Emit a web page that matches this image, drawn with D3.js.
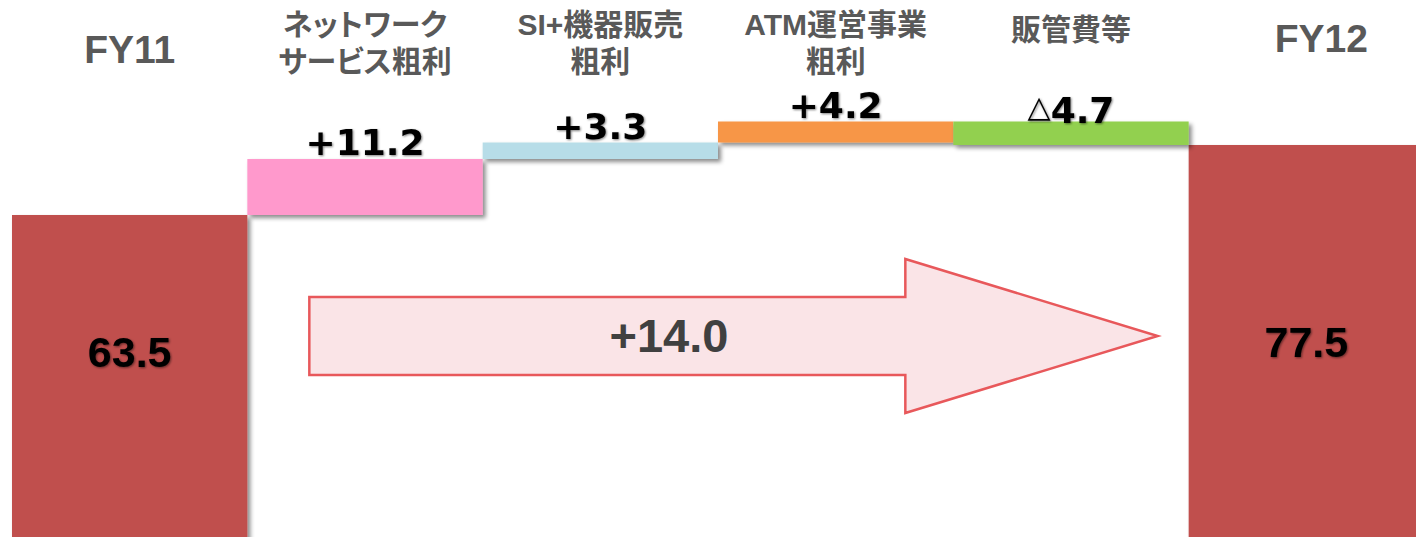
<!DOCTYPE html>
<html>
<head>
<meta charset="utf-8">
<script src="https://cdn.jsdelivr.net/npm/d3@7"></script>
<style>
  body { margin: 0; background: #fff; }
  svg { display: block; }
  .cat-label { font-feature-settings: "palt"; }
</style>
</head>
<body>
<div id="chart"></div>
<script>
// data
const categories = ["FY11", "ネットワーク\nサービス粗利", "SI+機器販売\n粗利", "ATM運営事業\n粗利", "販管費等", "FY12"];
const startValue = 63.5;
const deltas = [11.2, 3.3, 4.2, -4.7];
const endValue = 77.5;
const totalChange = 14.0;
const stepColors = ["#ff99cc", "#b7dde8", "#f79646", "#92d050"];

// layout
const width = 1416, height = 537;

const svg = d3.select("#chart")
  .append("svg")
    .attr("width", width)
    .attr("height", height);

const x = d3.scaleBand()
  .domain(categories)
  .range([12, 1424])
  .padding(0);

const y = d3.scaleLinear()
  .domain([0, 100])
  .range([532.5, 32.5]);

// shadow under the bars
const defs = svg.append("defs");
defs.append("filter")
    .attr("id", "shadow")
    .attr("x", "-10%").attr("y", "-20%")
    .attr("width", "130%").attr("height", "180%")
  .append("feDropShadow")
    .attr("dx", 3).attr("dy", 3)
    .attr("stdDeviation", 2)
    .attr("flood-color", "#000")
    .attr("flood-opacity", 0.45);

defs.append("filter")
    .attr("id", "glow")
    .attr("x", "-10%").attr("y", "-20%")
    .attr("width", "130%").attr("height", "150%")
  .append("feDropShadow")
    .attr("dx", 1).attr("dy", 1)
    .attr("stdDeviation", 0.8)
    .attr("flood-color", "#000")
    .attr("flood-opacity", 0.5);

// build waterfall steps
let run = startValue;
const steps = deltas.map((d, i) => {
  const from = run;
  run += d;
  return {cat: categories[i + 1], from: from, to: run, delta: d, color: stepColors[i]};
});

const totals = [
  {cat: categories[0], value: startValue},
  {cat: categories[categories.length - 1], value: endValue}
];

// total bars
svg.selectAll(".total")
  .data(totals)
  .join("rect")
    .attr("class", "total")
    .attr("x", d => x(d.cat))
    .attr("width", x.bandwidth())
    .attr("y", d => y(d.value))
    .attr("height", d => height - y(d.value) + 10)
    .attr("fill", "#c0504d")
    .attr("filter", "url(#shadow)");

// step bars
svg.selectAll(".step")
  .data(steps)
  .join("rect")
    .attr("class", "step")
    .attr("x", d => x(d.cat))
    .attr("width", x.bandwidth())
    .attr("y", d => y(Math.max(d.from, d.to)))
    .attr("height", d => Math.abs(y(d.from) - y(d.to)))
    .attr("fill", d => d.color)
    .attr("filter", "url(#shadow)");

// step value labels
const stepLabels = svg.selectAll(".step-label")
  .data(steps)
  .join("text")
    .attr("class", "step-label")
    .attr("x", d => x(d.cat) + x.bandwidth() / 2)
    .attr("y", d => d.delta >= 0 ? y(Math.max(d.from, d.to)) - 4 : y(Math.max(d.from, d.to)) + 1)
    .attr("text-anchor", "middle")
    .attr("font-family", "'DejaVu Sans', sans-serif")
    .attr("font-weight", "bold")
    .attr("font-size", 36)
    .attr("fill", "#000")
    .attr("filter", "url(#glow)");

stepLabels.append("tspan")
  .attr("font-size", d => d.delta >= 0 ? 36 : 30)
  .attr("dy", d => d.delta >= 0 ? 0 : -6)
  .text(d => d.delta >= 0 ? "+" : "△");
stepLabels.append("tspan")
  .attr("dy", d => d.delta >= 0 ? 0 : 6)
  .text(d => Math.abs(d.delta).toFixed(1));

// total value labels
const totalLabelY = [367, 357];
svg.selectAll(".total-label")
  .data(totals)
  .join("text")
    .attr("class", "total-label")
    .attr("x", d => x(d.cat) + x.bandwidth() / 2)
    .attr("y", (d, i) => totalLabelY[i])
    .attr("text-anchor", "middle")
    .attr("font-family", "'Liberation Sans', Arial, sans-serif")
    .attr("font-weight", "bold")
    .attr("font-size", 43)
    .attr("fill", "#000")
    .attr("filter", "url(#glow)")
    .text(d => d.value.toFixed(1));

// category labels
const last = categories.length - 1;
categories.forEach((c, i) => {
  const lines = c.split("\n");
  const isTotal = i === 0 || i === last;
  const t = svg.append("text")
    .attr("class", isTotal ? "fy-label" : "cat-label")
    .attr("x", x(c) + x.bandwidth() / 2 + (i === last ? 15 : 0))
    .attr("text-anchor", "middle")
    .attr("font-family", "'Liberation Sans', 'Noto Sans CJK JP', sans-serif")
    .attr("font-weight", "bold")
    .attr("font-size", isTotal ? 39 : 30)
    .attr("fill", "#595959");
  if (isTotal) {
    t.attr("y", i === 0 ? 63 : 52).text(c);
  } else if (lines.length === 1) {
    t.attr("y", 40).text(c);
  } else {
    lines.forEach((l, j) => {
      t.append("tspan")
        .attr("x", x(c) + x.bandwidth() / 2)
        .attr("y", 35 + j * 37)
        .text(l);
    });
  }
});

// big arrow for the total change
const ax0 = x(categories[1]) + 62,
      axHead = x(categories[4]) - 48,
      axTip = x(categories[last]) - 31,
      ayMid = 336,
      bodyHalf = 39,
      headHalf = 77;

const arrow = d3.path();
arrow.moveTo(ax0, ayMid - bodyHalf);
arrow.lineTo(axHead, ayMid - bodyHalf);
arrow.lineTo(axHead, ayMid - headHalf);
arrow.lineTo(axTip, ayMid);
arrow.lineTo(axHead, ayMid + headHalf);
arrow.lineTo(axHead, ayMid + bodyHalf);
arrow.lineTo(ax0, ayMid + bodyHalf);
arrow.closePath();

svg.append("path")
  .attr("d", arrow.toString())
  .attr("fill", "#fae4e7")
  .attr("stroke", "#e8585b")
  .attr("stroke-width", 2.5);

svg.append("text")
  .attr("x", 669)
  .attr("y", 352)
  .attr("text-anchor", "middle")
  .attr("font-family", "'Liberation Sans', Arial, sans-serif")
  .attr("font-weight", "bold")
  .attr("font-size", 47)
  .attr("fill", "#404040")
  .text("+" + totalChange.toFixed(1));
</script>
</body>
</html>
